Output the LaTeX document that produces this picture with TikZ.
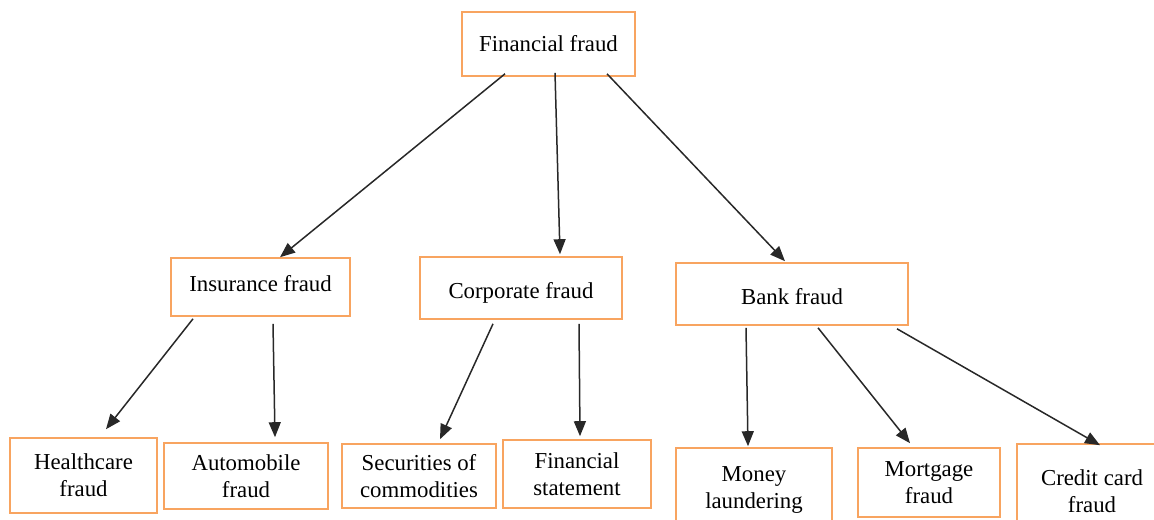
\documentclass[tikz,border=0pt]{standalone}
\usepackage{fontspec}
\setmainfont{Liberation Serif}
\usetikzlibrary{arrows.meta,calc}
\definecolor{boxorange}{RGB}{248,164,96}
\definecolor{arrowgray}{RGB}{40,40,40}
\newcommand{\shiftlbl}[2]{\raisebox{#1}[\height][\depth]{#2}}
\begin{document}
\begin{tikzpicture}[x=0.5pt,y=-0.5pt,
  box/.style={draw=boxorange,line width=0.8pt,rectangle,align=center,inner sep=0pt,
    font=\fontsize{11.4}{13.5}\selectfont,text=black},
  conn/.style={draw=arrowgray,line width=0.75pt,-{Triangle[length=7.5pt,width=6pt]}}]
\useasboundingbox (0,0) rectangle (1154,519);
% top
\node[box,minimum width=86.5pt,minimum height=32pt] (fin) at (548.5,44) {Financial fraud};
% middle
\node[box,minimum width=89.5pt,minimum height=29pt] (ins) at (260.5,287) {\shiftlbl{1.5pt}{Insurance fraud}};
\node[box,minimum width=101pt,minimum height=31pt] (corp) at (521,288) {\shiftlbl{-2.5pt}{Corporate fraud}};
\node[box,minimum width=116pt,minimum height=31pt] (bank) at (792,294) {\shiftlbl{-1.5pt}{Bank fraud}};
% bottom
\node[box,minimum width=73.5pt,minimum height=37.5pt] (hc) at (83.5,475.5) {Healthcare\\fraud};
\node[box,minimum width=82pt,minimum height=33pt] (auto) at (246,476) {Automobile\\fraud};
\node[box,minimum width=77pt,minimum height=32pt] (sec) at (419,476) {Securities of\\commodities};
\node[box,minimum width=74pt,minimum height=34pt] (fs) at (577,474) {Financial\\statement};
\node[box,minimum width=78pt,minimum height=42pt] (ml) at (754,490) {Money\\laundering};
\node[box,minimum width=71pt,minimum height=34.5pt] (mort) at (929,482.5) {Mortgage\\fraud};
\node[box,minimum width=75pt,minimum height=47pt] (cc) at (1092,491) {Credit card\\fraud};
% connectors
\draw[conn] ($(fin.south)+(-43.5,-3)$) -- ($(ins.north)+(19.5,0)$);
\draw[conn] ($(fin.south)+(6.5,-4)$) -- ($(corp.north)+(39,-2)$);
\draw[conn] ($(fin.south)+(58.5,-3)$) -- ($(bank.north)+(-7,-1)$);
\draw[conn] ($(ins.south)+(-67.5,2)$) -- ($(hc.north)+(22.5,-8)$);
\draw[conn] ($(ins.south)+(12.5,7)$) -- ($(auto.north)+(29,-5)$);
\draw[conn] ($(corp.south)+(-28,4)$) -- ($(sec.north)+(21,-4)$);
\draw[conn] ($(corp.south)+(58,4)$) -- ($(fs.north)+(3,-3)$);
\draw[conn] ($(bank.south)+(-46,2)$) -- ($(ml.north)+(-6,-1)$);
\draw[conn] ($(bank.south)+(26,2)$) -- ($(mort.north)+(-19,-4)$);
\draw[conn] ($(bank.south)+(105,3)$) -- ($(cc.north)+(8,2)$);
\end{tikzpicture}
\end{document}
